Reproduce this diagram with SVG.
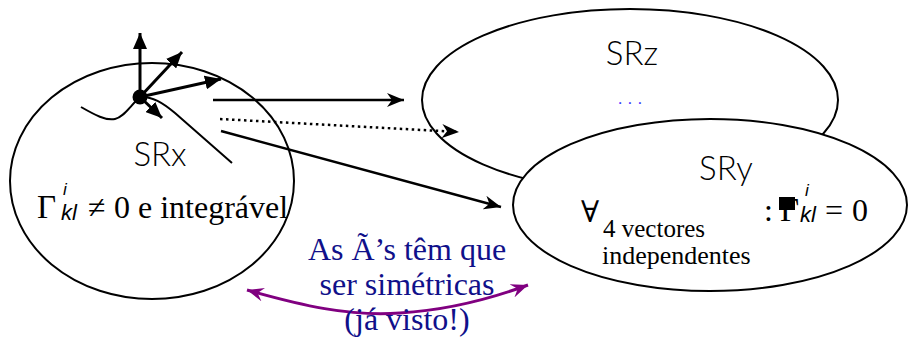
<svg xmlns="http://www.w3.org/2000/svg" width="923" height="342" viewBox="0 0 923 342">
<style>
.ell{fill:#fff;stroke:#000;stroke-width:2}
.lbl{font-family:Lato,"Open Sans",sans-serif;font-weight:300;font-size:33px;fill:#000;text-anchor:middle}
.ser{font-family:"Liberation Serif","DejaVu Serif",serif;fill:#000}
.isans{font-family:"Liberation Sans",Arial,sans-serif;font-style:italic;fill:#000}
.conn{fill:none;stroke:#000;stroke-width:2.5}
.vec{fill:none;stroke:#000;stroke-width:3}
.blue{font-family:"Liberation Serif","DejaVu Serif",serif;font-size:32px;fill:#10108a;text-anchor:middle}
</style>
<defs>
<marker id="ahead" markerUnits="userSpaceOnUse" markerWidth="18" markerHeight="14" viewBox="0 0 18 14" refX="17" refY="7" orient="auto">
<path d="M0,0 L17,7 L0,14 L5,7 z" fill="#000"/>
</marker>
<marker id="vhead" markerUnits="userSpaceOnUse" markerWidth="17" markerHeight="14" viewBox="0 0 17 14" refX="16" refY="7" orient="auto">
<path d="M0,0 L16,7 L0,14 z" fill="#000"/>
</marker>
<marker id="phead" markerUnits="userSpaceOnUse" markerWidth="18" markerHeight="14" viewBox="0 0 18 14" refX="17" refY="7" orient="auto-start-reverse">
<path d="M0,0 L17,7 L0,14 L6,7 z" fill="#800080"/>
</marker>
</defs>

<g id="SRx">
<ellipse class="ell" cx="152" cy="181" rx="142" ry="118" style="fill:none"/>
<text class="lbl" x="160" y="166">SRx</text>
<text class="ser" x="37" y="218" font-size="33">Γ</text>
<text class="isans" x="63" y="195" font-size="17">i</text>
<text class="isans" x="61" y="220" font-size="22">kl</text>
<text class="ser" x="88" y="218" font-size="32">≠</text>
<text class="ser" x="114" y="218" font-size="32">0 e integrável</text>
</g>

<g id="frame">
<path d="M81,107 C95,115 106,121 115,119 C124,117 130,106 140,97 C152,96 163,103 175,113 L232,163" fill="none" stroke="#000" stroke-width="2"/>
<line class="vec" x1="140" y1="97" x2="140" y2="33" marker-end="url(#vhead)"/>
<line class="vec" x1="140" y1="97" x2="182" y2="52" marker-end="url(#vhead)"/>
<line class="vec" x1="140" y1="97" x2="221" y2="79" marker-end="url(#vhead)"/>
<line class="vec" x1="140" y1="97" x2="162" y2="118" marker-end="url(#vhead)"/>
<circle cx="140" cy="97" r="7.5" fill="#000"/>
</g>

<g id="SRz">
<ellipse class="ell" cx="630" cy="100" rx="208" ry="91"/>
<text class="lbl" x="632" y="65">SRz</text>
<text x="633" y="104" font-family="Lato,sans-serif" font-size="16" fill="#3a3aff" text-anchor="middle" letter-spacing="6">...</text>
</g>

<g id="SRy">
<ellipse class="ell" cx="710" cy="205" rx="197" ry="86"/>
<text class="lbl" x="726" y="180">SRy</text>
<text class="ser" x="581" y="222" font-size="30">∀</text>
<text class="ser" x="603" y="237" font-size="25">4 vectores</text>
<text class="ser" x="602" y="264" font-size="26">independentes</text>
<text class="ser" x="764" y="221" font-size="32">:</text>
<text class="ser" x="780" y="221" font-size="33">Γ</text>
<rect x="779" y="197" width="16" height="13" fill="#000"/>
<text class="isans" x="805" y="196" font-size="17">i</text>
<text class="isans" x="800" y="222" font-size="22">kl</text>
<text class="ser" x="825" y="221" font-size="32">=</text>
<text class="ser" x="852" y="221" font-size="32">0</text>
</g>

<g id="connectors">
<line class="conn" x1="213" y1="100" x2="404" y2="100" marker-end="url(#ahead)"/>
<line class="conn" x1="220" y1="119" x2="459" y2="132" stroke-dasharray="2.5 3.5" marker-end="url(#ahead)"/>
<line class="conn" x1="221" y1="131" x2="501" y2="207" marker-end="url(#ahead)"/>
<path d="M247,290 C300,305 350,317 400,313 C450,310 490,299 528,285" fill="none" stroke="#800080" stroke-width="3" marker-start="url(#phead)" marker-end="url(#phead)"/>
</g>

<g id="note">
<text class="blue" x="407" y="260">As Ã’s têm que</text>
<text class="blue" x="407" y="295">ser simétricas</text>
<text class="blue" x="407" y="330">(já visto!)</text>
</g>
</svg>
